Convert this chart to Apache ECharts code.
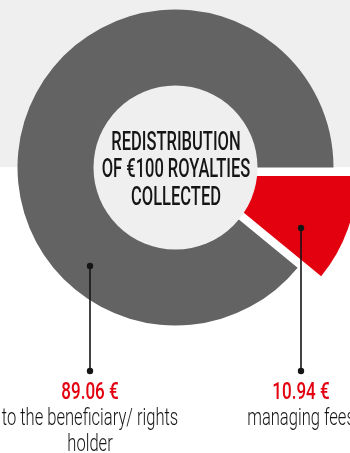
<!DOCTYPE html>
<html>
<head>
<meta charset="utf-8">
<script src="https://cdn.jsdelivr.net/npm/echarts@6/dist/echarts.min.js"></script>
<style>
html,body{margin:0;padding:0;background:#fff;}
#c{width:350px;height:453px;background:linear-gradient(#efefef 0px,#efefef 167.5px,#ffffff 167.5px,#ffffff 453px);}
</style>
</head>
<body>
<div id="c"></div>
<script>
// ---- data ----
const categories = ["managing fees", "to the beneficiary/ rights\nholder"];
const values = [10.94, 89.06];
const valueLabels = ["10.94 €", "89.06 €"];
const centerTitle = ["REDISTRIBUTION", "OF €100 ROYALTIES", "COLLECTED"];

// ---- style / layout ----
const RED = '#e3000f', GRAY = '#636363', LIGHT = '#efefef', INK = '#151515';
const CX = 175.5, CY = 167.5, R_OUT = 158, R_HOLE = 82;
const FONT = 'Roboto';
// annotation anchors (dot inside slice, dot at line end), label centre x
const anchors = [
  {x: 301, y1: 228, y2: 371},
  {x: 90,  y1: 266, y2: 371}
];

const chart = echarts.init(document.getElementById('c'), null, {renderer: 'canvas'});

function scaledText(txt, x, y, sx, font, fill) {
  return {
    type: 'group', x: x, y: y, scaleX: sx, z: 100, zlevel: 0,
    children: [{type: 'text', z: 100, style: {text: txt, x: 0, y: 0, align: 'center', verticalAlign: 'middle', font: font, fill: fill}}]
  };
}

const graphics = [];
centerTitle.forEach((t, i) => {
  graphics.push(scaledText(t, CX + 0.5, 143.5 + i * 27.5, 0.66, '500 25px ' + FONT, INK));
});
anchors.forEach((a, i) => {
  graphics.push({type: 'line', z: 100, shape: {x1: a.x, y1: a.y1, x2: a.x, y2: a.y2}, style: {stroke: INK, lineWidth: 1.6}});
  graphics.push({type: 'circle', z: 101, shape: {cx: a.x, cy: a.y1, r: 3.2}, style: {fill: INK}});
  graphics.push({type: 'circle', z: 101, shape: {cx: a.x, cy: a.y2, r: 3.2}, style: {fill: INK}});
  graphics.push(scaledText(valueLabels[i], a.x, 393.5, 0.74, '500 23px ' + FONT, RED));
  categories[i].split('\n').forEach((ln, j) => {
    graphics.push(scaledText(ln, a.x, 419.5 + j * 26, 0.72, '300 23px ' + FONT, INK));
  });
});

chart.setOption({
  animation: false,
  backgroundColor: 'transparent',
  graphic: {elements: graphics},
  series: [
    {
      type: 'pie',
      z: 1,
      center: [CX, CY],
      radius: [0, R_OUT],
      startAngle: 0,
      clockwise: true,
      selectedMode: 'single',
      selectedOffset: 25,
      avoidLabelOverlap: false,
      label: {show: false},
      labelLine: {show: false},
      emphasis: {disabled: true},
      itemStyle: {borderWidth: 0},
      data: categories.map((c, i) => ({
        name: c, value: values[i], selected: i === 0,
        itemStyle: {color: i === 0 ? RED : GRAY}
      }))
    },
    {
      type: 'pie',
      z: 2,
      center: [CX, CY],
      radius: [0, R_HOLE],
      silent: true,
      label: {show: false},
      labelLine: {show: false},
      emphasis: {disabled: true},
      itemStyle: {borderWidth: 0, color: LIGHT},
      data: [{name: 'hole', value: 1}]
    }
  ]
});
</script>
</body>
</html>
